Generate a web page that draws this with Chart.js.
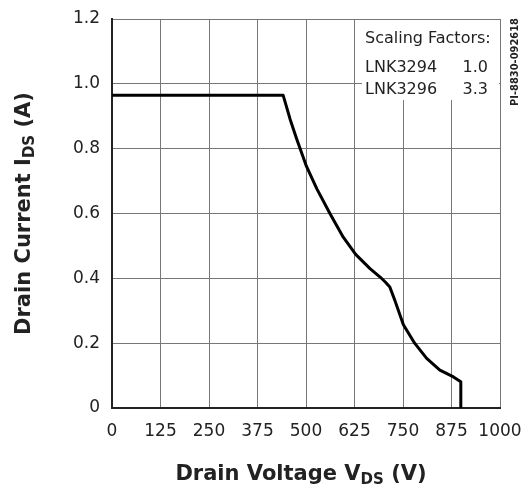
<!DOCTYPE html>
<html>
<head>
<meta charset="utf-8">
<script src="https://cdn.jsdelivr.net/npm/chart.js@4.4.0/dist/chart.umd.min.js"></script>
<style>
  html, body { margin: 0; padding: 0; background: #fff; }
  #wrap { width: 524px; height: 487px; position: relative; }
</style>
</head>
<body>
<div id="wrap"><canvas id="chart" width="524" height="487"></canvas></div>
<script>
// Curva de SOA (V, I)
const voltaje = [0, 441, 459, 476, 493, 501, 528, 562, 596, 628, 665, 691, 705, 716, 729, 751, 780, 811, 845, 880, 899, 899];
const corriente = [0.965, 0.965, 0.891, 0.830, 0.773, 0.746, 0.676, 0.599, 0.527, 0.474, 0.430, 0.404, 0.388, 0.373, 0.332, 0.257, 0.200, 0.153, 0.117, 0.096, 0.081, 0];

const xTicks = [0, 125, 250, 375, 500, 625, 750, 875, 1000];
const yTicks = [0, 0.2, 0.4, 0.6, 0.8, 1.0, 1.2];

const escalaTitulo = 'Scaling Factors:';
const escalaPartes = ['LNK3294', 'LNK3296'];
const escalaValores = ['1.0', '3.3'];
const codigoFigura = 'PI-8830-092618';

const FUENTE = '"DejaVu Sans", sans-serif';
const FUENTE_COND = '"DejaVu Sans Condensed", "DejaVu Sans", sans-serif';

const puntos = voltaje.map((v, i) => ({ x: v, y: corriente[i] }));

// texto con subindice
function textoSub(ctx, partes, x, y, align) {
    let total = 0;
    partes.forEach(p => {
        ctx.font = p.font;
        total += ctx.measureText(p.t).width;
    });
    let cx = align === 'center' ? x - total / 2 : x;
    partes.forEach(p => {
        ctx.font = p.font;
        ctx.fillText(p.t, cx, y + (p.dy || 0));
        cx += ctx.measureText(p.t).width;
    });
}

const extras = {
    id: 'extras',
    beforeDatasetsDraw(chart) {
        const ctx = chart.ctx;
        const area = chart.chartArea;
        ctx.save();
        // caja blanca de factores
        ctx.fillStyle = '#fff';
        ctx.fillRect(362, area.top + 1, area.right - 363, 80);
        ctx.fillStyle = '#222';
        ctx.textAlign = 'left';
        ctx.textBaseline = 'alphabetic';
        ctx.font = '16px ' + FUENTE;
        ctx.fillText(escalaTitulo, 365, 43);
        escalaPartes.forEach((p, i) => {
            ctx.textAlign = 'left';
            ctx.fillText(p, 365, 72 + i * 22);
            ctx.textAlign = 'right';
            ctx.fillText(escalaValores[i], 488, 72 + i * 22);
        });
        ctx.restore();
    },
    afterDraw(chart) {
        const ctx = chart.ctx;
        const area = chart.chartArea;
        ctx.save();
        ctx.fillStyle = '#222';
        ctx.textBaseline = 'alphabetic';
        const big = 'bold 21px ' + FUENTE;
        const sub = 'bold 15px ' + FUENTE;
        // titulo eje x
        textoSub(ctx, [
            { t: 'Drain Voltage V', font: big },
            { t: 'DS', font: sub, dy: 4 },
            { t: ' (V)', font: big }
        ], (area.left + area.right) / 2 - 5, 480, 'center');
        // titulo eje y
        ctx.save();
        ctx.translate(30, (area.top + area.bottom) / 2);
        ctx.rotate(-Math.PI / 2);
        textoSub(ctx, [
            { t: 'Drain Current I', font: big },
            { t: 'DS', font: sub, dy: 4 },
            { t: ' (A)', font: big }
        ], 0, 0, 'center');
        ctx.restore();
        // codigo de figura
        ctx.save();
        ctx.translate(518, 62);
        ctx.rotate(-Math.PI / 2);
        ctx.font = 'bold 11px ' + FUENTE_COND;
        ctx.textAlign = 'center';
        ctx.fillText(codigoFigura, 0, 0);
        ctx.restore();
        ctx.restore();
    }
};

new Chart(document.getElementById('chart'), {
    type: 'scatter',
    data: {
        datasets: [{
            data: puntos,
            showLine: true,
            borderColor: '#000',
            borderWidth: 3,
            pointRadius: 0,
            tension: 0,
            borderJoinStyle: 'round'
        }]
    },
    options: {
        responsive: false,
        animation: false,
        layout: { padding: { top: 19, right: 24, left: 0, bottom: 0 } },
        plugins: { legend: { display: false }, tooltip: { enabled: false } },
        scales: {
            x: {
                type: 'linear',
                min: 0,
                max: 1000,
                afterFit: s => { s.height = 79; s.paddingLeft = 0; s.paddingRight = 0; },
                afterBuildTicks: s => { s.ticks = xTicks.map(v => ({ value: v })); },
                grid: { color: '#777', lineWidth: 1, drawTicks: false },
                border: { color: '#222', width: 2 },
                ticks: {
                    color: '#222',
                    padding: 13,
                    maxRotation: 0,
                    autoSkip: false,
                    font: { family: FUENTE, size: 17 },
                    callback: v => String(v)
                }
            },
            y: {
                type: 'linear',
                min: 0,
                max: 1.2,
                afterFit: s => { s.width = 112; s.paddingTop = 0; s.paddingBottom = 0; },
                afterBuildTicks: s => { s.ticks = yTicks.map(v => ({ value: v })); },
                grid: { color: '#777', lineWidth: 1, drawTicks: false },
                border: { color: '#222', width: 2 },
                ticks: {
                    color: '#222',
                    padding: 12,
                    autoSkip: false,
                    font: { family: FUENTE, size: 17 },
                    callback: v => v === 0 ? '0' : v.toFixed(1)
                }
            }
        }
    },
    plugins: [extras]
});
</script>
</body>
</html>
